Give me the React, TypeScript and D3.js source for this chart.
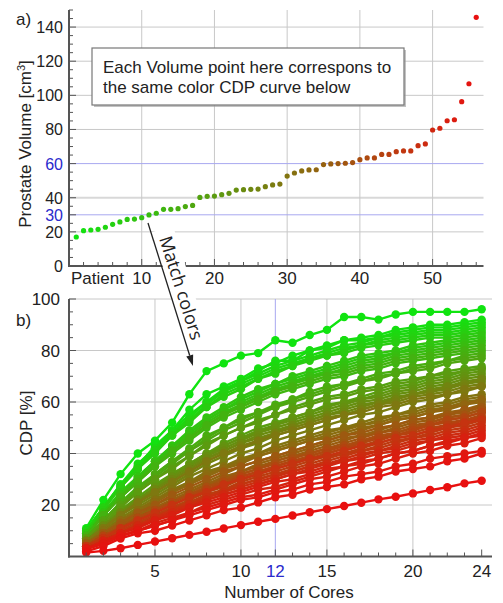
import React from "react";
import * as d3 from "d3";

// ---------- DATA ----------
const volumes = [17, 20.7, 21.1, 21.5, 22.7, 24.4, 25.8, 27.3, 27.5, 28.3, 29.9, 30.9, 33.2, 33.2, 33.6, 34.8, 35.5, 40.2, 40.8, 41, 41.8, 42.6, 44.5, 44.7, 44.9, 45.1, 46.5, 47.5, 48, 52.7, 54.5, 55.7, 56.3, 56.4, 59.4, 59.8, 60, 60.2, 60.6, 62.3, 63.3, 63.3, 65.4, 65.4, 67, 67.4, 67.4, 70.5, 71.5, 79.7, 80.7, 85.1, 85.7, 96.3, 106.8, 145.7];

const cores = [1, 2, 3, 4, 5, 6, 7, 8, 9, 10, 11, 12, 13, 14, 15, 16, 17, 18, 19, 20, 21, 22, 23, 24];

const cdpByPatient: number[][] = [
  [11, 22, 32, 40, 45, 52, 63, 72, 75, 78, 79, 84, 83, 86, 88, 93, 93, 92, 94, 95, 95, 95, 95, 96],
  [10, 19, 28, 35, 43, 49, 57, 63, 66, 69, 73, 75, 78, 80, 82, 84, 85, 86, 88, 89, 90, 90, 91, 92],
  [10, 19, 28, 36, 42, 49, 55, 60, 65, 68, 72, 76, 76, 80, 81, 84, 84, 85, 87, 88, 89, 89, 90, 91],
  [10, 19, 27, 35, 42, 48, 54, 60, 64, 68, 71, 74, 76, 78, 80, 82, 83, 85, 86, 87, 88, 88, 89, 90],
  [10, 19, 27, 34, 41, 48, 53, 59, 64, 67, 70, 73, 75, 77, 79, 81, 82, 84, 85, 86, 87, 87, 88, 89],
  [9, 19, 27, 34, 41, 47, 53, 58, 63, 66, 69, 72, 74, 77, 78, 80, 82, 83, 84, 85, 86, 86, 87, 88],
  [9, 18, 27, 34, 40, 47, 52, 58, 62, 65, 69, 71, 74, 76, 78, 79, 81, 82, 83, 84, 85, 85, 86, 87],
  [9, 17, 24, 31, 37, 43, 48, 53, 57, 61, 64, 67, 69, 71, 73, 75, 77, 78, 79, 81, 82, 83, 84, 85],
  [9, 17, 25, 31, 37, 43, 49, 54, 58, 62, 65, 67, 70, 72, 74, 76, 78, 79, 80, 82, 83, 84, 85, 86],
  [8, 17, 24, 30, 37, 42, 48, 53, 57, 60, 63, 66, 68, 70, 72, 74, 76, 77, 79, 80, 81, 82, 83, 84],
  [8, 16, 24, 30, 36, 42, 47, 52, 56, 59, 62, 65, 67, 70, 71, 73, 75, 76, 78, 79, 80, 81, 82, 83],
  [8, 16, 23, 30, 36, 41, 46, 51, 55, 59, 62, 64, 67, 69, 71, 72, 74, 75, 77, 78, 79, 80, 81, 82],
  [8, 16, 23, 29, 35, 40, 45, 50, 54, 57, 60, 63, 65, 67, 69, 70, 72, 73, 75, 76, 77, 78, 79, 80],
  [8, 16, 23, 29, 35, 41, 46, 51, 55, 58, 61, 64, 66, 68, 70, 71, 73, 74, 76, 77, 78, 79, 80, 81],
  [7, 14, 21, 27, 32, 37, 42, 47, 50, 54, 56, 59, 61, 64, 66, 67, 69, 71, 72, 74, 75, 76, 78, 79],
  [7, 14, 21, 26, 32, 37, 41, 46, 50, 53, 56, 58, 61, 63, 65, 67, 68, 70, 71, 73, 74, 76, 77, 78],
  [7, 14, 20, 26, 31, 36, 41, 45, 49, 52, 55, 58, 60, 62, 64, 66, 68, 69, 71, 72, 73, 75, 76, 77],
  [7, 14, 20, 25, 30, 35, 39, 44, 47, 50, 53, 55, 58, 60, 62, 63, 65, 66, 68, 69, 70, 72, 73, 74],
  [6, 12, 18, 23, 28, 32, 36, 40, 44, 47, 50, 52, 54, 56, 59, 60, 62, 64, 66, 67, 69, 70, 72, 73],
  [7, 13, 19, 25, 30, 34, 39, 43, 47, 50, 52, 55, 57, 59, 61, 62, 64, 65, 67, 68, 70, 71, 72, 73],
  [6, 12, 18, 22, 27, 32, 36, 40, 43, 46, 49, 51, 54, 56, 58, 60, 61, 63, 65, 66, 68, 69, 71, 72],
  [6, 12, 17, 22, 27, 31, 35, 39, 43, 46, 48, 51, 53, 55, 57, 59, 61, 62, 64, 65, 67, 68, 70, 71],
  [6, 12, 17, 22, 26, 31, 35, 39, 42, 45, 48, 50, 52, 54, 56, 58, 60, 61, 63, 64, 66, 67, 69, 70],
  [6, 12, 17, 22, 26, 30, 34, 38, 41, 44, 47, 49, 51, 53, 55, 57, 59, 60, 62, 63, 65, 66, 68, 69],
  [6, 11, 17, 21, 26, 30, 34, 38, 41, 44, 46, 48, 51, 53, 55, 56, 58, 60, 61, 63, 64, 65, 67, 68],
  [5, 11, 16, 20, 24, 28, 32, 36, 39, 42, 44, 47, 49, 51, 53, 55, 57, 59, 61, 63, 64, 66, 67, 69],
  [6, 11, 16, 21, 25, 29, 33, 37, 40, 43, 45, 48, 50, 52, 54, 55, 57, 59, 60, 62, 63, 64, 66, 67],
  [5, 10, 15, 19, 23, 27, 31, 34, 37, 40, 42, 45, 47, 49, 51, 53, 55, 56, 58, 60, 61, 63, 64, 66],
  [6, 11, 16, 21, 25, 29, 33, 37, 40, 42, 45, 47, 49, 51, 53, 55, 56, 58, 59, 61, 62, 63, 65, 66],
  [5, 10, 14, 18, 22, 26, 29, 33, 35, 38, 40, 43, 45, 47, 49, 50, 52, 54, 55, 57, 59, 60, 62, 63],
  [5, 10, 14, 18, 22, 25, 29, 32, 35, 37, 40, 42, 44, 46, 48, 50, 51, 53, 55, 56, 58, 59, 61, 62],
  [5, 9, 14, 18, 21, 25, 28, 32, 34, 37, 39, 41, 43, 45, 47, 49, 51, 52, 54, 55, 57, 58, 60, 61],
  [5, 9, 14, 17, 21, 25, 28, 31, 34, 36, 39, 41, 43, 45, 46, 48, 50, 51, 53, 54, 56, 57, 59, 60],
  [4, 9, 13, 16, 20, 23, 26, 29, 32, 35, 37, 39, 41, 43, 45, 47, 49, 51, 53, 54, 56, 58, 59, 61],
  [4, 8, 12, 16, 19, 22, 25, 28, 31, 33, 36, 38, 40, 42, 44, 46, 47, 49, 51, 53, 54, 56, 57, 59],
  [4, 8, 12, 15, 19, 22, 25, 28, 30, 33, 35, 37, 39, 41, 43, 45, 47, 48, 50, 52, 53, 55, 56, 58],
  [5, 9, 13, 17, 20, 24, 27, 30, 33, 35, 37, 39, 41, 43, 45, 47, 48, 50, 51, 53, 54, 55, 57, 58],
  [4, 8, 12, 15, 18, 21, 24, 27, 30, 32, 34, 37, 39, 40, 42, 44, 46, 48, 49, 51, 52, 54, 55, 57],
  [4, 7, 11, 14, 17, 20, 23, 25, 28, 30, 32, 35, 37, 39, 41, 43, 45, 46, 48, 50, 52, 54, 55, 57],
  [4, 8, 11, 15, 18, 21, 24, 27, 29, 32, 34, 36, 38, 40, 42, 43, 45, 47, 48, 50, 51, 53, 54, 56],
  [4, 8, 11, 15, 18, 21, 24, 26, 29, 31, 33, 35, 37, 39, 41, 43, 44, 46, 47, 49, 51, 52, 53, 55],
  [4, 7, 10, 13, 16, 19, 22, 25, 27, 30, 32, 34, 36, 38, 40, 42, 44, 46, 47, 49, 51, 53, 54, 56],
  [4, 8, 11, 14, 17, 20, 23, 26, 28, 31, 33, 35, 37, 38, 40, 42, 43, 45, 47, 48, 50, 51, 53, 54],
  [3, 7, 10, 13, 16, 19, 21, 24, 26, 29, 31, 33, 35, 37, 39, 40, 42, 44, 46, 47, 49, 51, 52, 54],
  [3, 7, 10, 13, 16, 18, 21, 23, 26, 28, 30, 32, 34, 36, 38, 40, 41, 43, 45, 46, 48, 50, 51, 53],
  [3, 7, 10, 12, 15, 18, 21, 23, 25, 28, 30, 32, 33, 35, 37, 39, 41, 42, 44, 46, 47, 49, 50, 52],
  [4, 7, 11, 14, 17, 20, 23, 25, 28, 30, 32, 34, 36, 38, 39, 41, 43, 44, 46, 47, 49, 50, 52, 53],
  [3, 6, 9, 12, 15, 18, 20, 23, 25, 27, 29, 31, 33, 35, 36, 38, 40, 41, 43, 45, 46, 48, 49, 51],
  [3, 6, 9, 12, 15, 17, 20, 22, 24, 26, 28, 30, 32, 34, 36, 37, 39, 41, 42, 44, 45, 47, 48, 50],
  [3, 6, 9, 12, 14, 17, 19, 22, 24, 26, 28, 30, 32, 33, 35, 37, 38, 40, 41, 43, 45, 46, 47, 49],
  [3, 5, 8, 10, 13, 15, 17, 20, 22, 24, 26, 27, 29, 31, 33, 35, 36, 38, 40, 41, 43, 45, 46, 48],
  [3, 6, 9, 11, 14, 16, 19, 21, 23, 25, 27, 29, 30, 32, 34, 35, 37, 38, 40, 41, 43, 44, 46, 47],
  [3, 5, 8, 10, 12, 14, 17, 19, 21, 23, 24, 26, 28, 30, 31, 33, 35, 36, 38, 40, 41, 43, 44, 46],
  [3, 5, 8, 10, 12, 14, 16, 18, 20, 22, 23, 25, 26, 28, 29, 31, 32, 33, 35, 36, 38, 39, 40, 41],
  [2, 4, 7, 9, 10, 12, 14, 16, 18, 19, 21, 23, 24, 26, 27, 28, 30, 31, 33, 34, 35, 37, 38, 40],
  [1.5, 2.2, 3.2, 4.5, 5.8, 7.1, 8.4, 9.6, 10.9, 12.2, 13.5, 14.6, 15.9, 17.2, 18.4, 19.6, 20.9, 22.2, 23.2, 24.5, 25.8, 26.9, 28.4, 29.4],
];

const topYTicks = [0, 20, 40, 80, 100, 120, 140];
const topYBlueTicks = [30, 60];
const topXTicks = [10, 20, 30, 40, 50];
const botYTicks = [20, 40, 60, 80, 100];
const botXTicks = [5, 10, 15, 20, 24];
const botXBlueTicks = [12];

// ---------- LAYOUT ----------
const W = 503;
const H = 603;
const FONT = "'Liberation Sans', Arial, sans-serif";

const xTop = d3.scaleLinear().domain([0, 57]).range([69, 483.5]);
const yTop = d3.scaleLinear().domain([0, 150]).range([266, 10]);
const xBot = d3.scaleLinear().domain([0, 24.6]).range([69, 492]);
const yBot = d3.scaleLinear().domain([0, 100]).range([556.5, 299]);

const color = d3
  .scaleLinear<string>()
  .domain([0, volumes.length - 1])
  .range(["#10e410", "#e81010"])
  .interpolate(d3.interpolateRgb);

const GRID = "#c8c8c8";
const BLUEGRID = "#a8a8f0";
const AXIS = "#555";
const BLUE = "#2a2acc";
const TXT = "#222";
const TICKFS = 16;

export default function App() {
  const line = d3
    .line<number>()
    .x((_, i) => xBot(cores[i]))
    .y((d) => yBot(d));

  const topMinorY = d3.range(0, 151, 5);
  const topMinorX = d3.range(2, 57, 2);
  const botMinorY = d3.range(0, 101, 5);
  const botMinorX = d3.range(1, 25, 1);

  // annotation arrow
  const a0 = [148, 223];
  const a1 = [193, 366];
  const dx = a1[0] - a0[0];
  const dy = a1[1] - a0[1];
  const len = Math.hypot(dx, dy);
  const ux = dx / len;
  const uy = dy / len;
  const hl = 11;
  const hw = 3.6;
  const bx = a1[0] - ux * hl;
  const by = a1[1] - uy * hl;
  const head = `${a1[0]},${a1[1]} ${bx - uy * hw},${by + ux * hw} ${bx + uy * hw},${by - ux * hw}`;
  const angle = (Math.atan2(dy, dx) * 180) / Math.PI;

  return (
    <svg
      width={W}
      height={H}
      style={{ position: "absolute", left: 0, top: 0, background: "#fff" }}
      fontFamily={FONT}
    >
      <rect width={W} height={H} fill="#fff" />

      {/* ===== TOP PANEL ===== */}
      {topYTicks.filter((t) => t > 0).map((t) => (
        <line key={"tg" + t} x1={xTop(0)} x2={483.5} y1={yTop(t)} y2={yTop(t)} stroke={t === 40 ? "#d8d8d8" : GRID} strokeWidth={t === 40 ? 2 : 1} />
      ))}
      {topXTicks.map((t) => (
        <line key={"tgx" + t} x1={xTop(t)} x2={xTop(t)} y1={yTop(150)} y2={yTop(0)} stroke={GRID} strokeWidth={1} />
      ))}
      {topYBlueTicks.map((t) => (
        <line key={"tb" + t} x1={xTop(0)} x2={483.5} y1={yTop(t)} y2={yTop(t)} stroke={BLUEGRID} strokeWidth={1} />
      ))}

      {/* axes */}
      <line x1={xTop(0)} x2={xTop(0)} y1={yTop(150)} y2={yTop(0) + 1} stroke={AXIS} strokeWidth={2} />
      <line x1={xTop(0) - 1} x2={483.5} y1={yTop(0)} y2={yTop(0)} stroke={AXIS} strokeWidth={2} />
      {topMinorY.map((t) => (
        <line key={"tmy" + t} x1={xTop(0)} x2={xTop(0) + (t % 20 === 0 || t === 30 || t === 60 ? 7 : 4)} y1={yTop(t)} y2={yTop(t)} stroke={AXIS} strokeWidth={1} />
      ))}
      {topMinorX.map((t) => (
        <line key={"tmx" + t} x1={xTop(t)} x2={xTop(t)} y1={yTop(0)} y2={yTop(0) - (t % 10 === 0 ? 7 : 4)} stroke={AXIS} strokeWidth={1} />
      ))}
      {topYTicks.map((t) => (
        <text key={"tyl" + t} x={63} y={yTop(t) + 6} textAnchor="end" fontSize={TICKFS} fill={TXT}>{t}</text>
      ))}
      {topYBlueTicks.map((t) => (
        <text key={"tybl" + t} x={63} y={yTop(t) + 6} textAnchor="end" fontSize={TICKFS} fill={BLUE}>{t}</text>
      ))}
      {topXTicks.map((t) => (
        <text key={"txl" + t} x={xTop(t)} y={284} textAnchor="middle" fontSize={TICKFS + 1} fill={TXT}>{t}</text>
      ))}
      <text x={71} y={284} fontSize={TICKFS + 1} fill={TXT}>Patient</text>

      <text transform={`translate(31,${144}) rotate(-90)`} textAnchor="middle" fontSize={17} fill={TXT}>
        Prostate Volume [cm<tspan dy={-6} fontSize={11}>3</tspan><tspan dy={6}>]</tspan>
      </text>
      <text x={16} y={25} fontSize={17} fill={TXT}>a)</text>

      {/* points */}
      {volumes.map((v, i) => (
        <circle key={"pv" + i} cx={xTop(i + 1)} cy={yTop(v)} r={2.6} fill={color(i)} />
      ))}

      {/* text box */}
      <rect x={94} y={50} width={312} height={57} fill="#9a9a9a" opacity={0.6} />
      <rect x={92} y={48} width={312} height={57} fill="#fff" stroke="#777" strokeWidth={1.2} />
      <text x={103} y={73} fontSize={17} fill={TXT}>Each Volume point here correspons to</text>
      <text x={103} y={93} fontSize={17} fill={TXT}>the same color CDP curve below</text>

      {/* ===== BOTTOM PANEL ===== */}
      {botYTicks.map((t) => (
        <line key={"bg" + t} x1={xBot(0)} x2={492} y1={yBot(t)} y2={yBot(t)} stroke={GRID} strokeWidth={1} />
      ))}
      {[5, 10, 15, 20].map((t) => (
        <line key={"bgx" + t} x1={xBot(t)} x2={xBot(t)} y1={yBot(100)} y2={yBot(0)} stroke={GRID} strokeWidth={1} />
      ))}
      {botXBlueTicks.map((t) => (
        <line key={"bbx" + t} x1={xBot(t)} x2={xBot(t)} y1={yBot(100)} y2={yBot(0)} stroke={BLUEGRID} strokeWidth={1} />
      ))}

      {/* curves */}
      {cdpByPatient.map((row, i) => (
        <g key={"c" + i}>
          <path d={line(row) || ""} fill="none" stroke={color(i)} strokeWidth={2.4} />
          {row.map((v, j) => (
            <circle key={j} cx={xBot(cores[j])} cy={yBot(v)} r={4.2} fill={color(i)} />
          ))}
        </g>
      ))}

      {/* axes */}
      <line x1={xBot(0)} x2={xBot(0)} y1={yBot(100)} y2={yBot(0) + 1} stroke={AXIS} strokeWidth={2} />
      <line x1={xBot(0) - 1} x2={492} y1={yBot(0)} y2={yBot(0)} stroke={AXIS} strokeWidth={2} />
      {botMinorY.map((t) => (
        <line key={"bmy" + t} x1={xBot(0)} x2={xBot(0) + (t % 20 === 0 ? 7 : 4)} y1={yBot(t)} y2={yBot(t)} stroke={AXIS} strokeWidth={1} />
      ))}
      {botMinorX.map((t) => (
        <line key={"bmx" + t} x1={xBot(t)} x2={xBot(t)} y1={yBot(0)} y2={yBot(0) - (t % 5 === 0 || t === 12 || t === 24 ? 7 : 4)} stroke={AXIS} strokeWidth={1} />
      ))}
      {botYTicks.map((t) => (
        <text key={"byl" + t} x={60} y={yBot(t) + 6} textAnchor="end" fontSize={TICKFS + 1} fill={TXT}>{t}</text>
      ))}
      {botXTicks.map((t) => (
        <text key={"bxl" + t} x={xBot(t)} y={577} textAnchor="middle" fontSize={TICKFS + 1} fill={TXT}>{t}</text>
      ))}
      {botXBlueTicks.map((t) => (
        <text key={"bxbl" + t} x={xBot(t)} y={577} textAnchor="middle" fontSize={TICKFS + 1} fill={BLUE}>{t}</text>
      ))}
      <text x={289} y={598} textAnchor="middle" fontSize={17} fill={TXT}>Number of Cores</text>
      <text transform={`translate(32,${423}) rotate(-90)`} textAnchor="middle" fontSize={17} fill={TXT}>CDP [%]</text>
      <text x={16} y={326} fontSize={17} fill={TXT}>b)</text>

      {/* annotation */}
      <g transform={`translate(181,288) rotate(${angle})`}>
        <rect x={-62} y={-11} width={124} height={22} fill="#fff" />
        <text x={0} y={6} textAnchor="middle" fontSize={18} fontFamily="'Open Sans', sans-serif" fill={TXT}>Match colors</text>
      </g>
      <line x1={a0[0]} y1={a0[1]} x2={bx} y2={by} stroke="#222" strokeWidth={1.3} />
      <polygon points={head} fill="#222" />
    </svg>
  );
}
